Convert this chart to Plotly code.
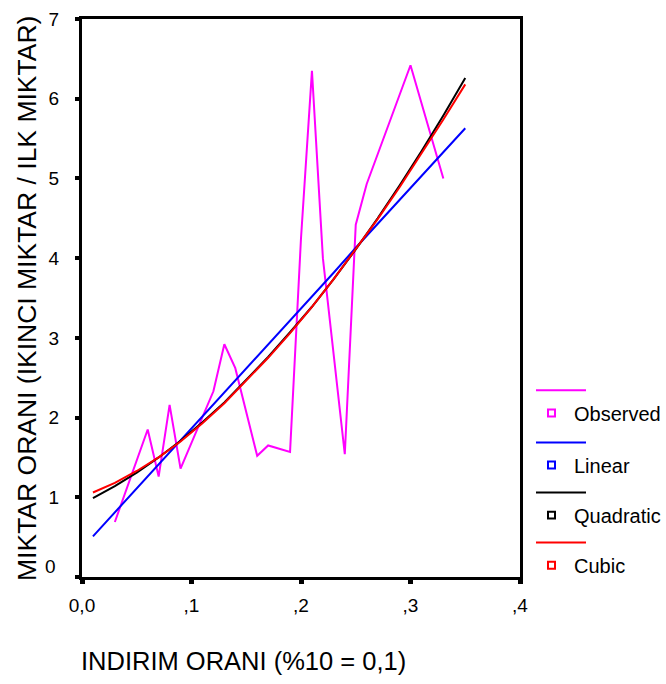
import plotly.graph_objects as go

# Observed data
obs_x = [0.03, 0.06, 0.07, 0.08, 0.09, 0.12, 0.13, 0.14, 0.16, 0.17, 0.19, 0.20, 0.21, 0.22, 0.24, 0.25, 0.26, 0.30, 0.33]
obs_y = [0.69, 1.85, 1.26, 2.16, 1.36, 2.33, 2.92, 2.62, 1.52, 1.65, 1.57, 4.25, 6.35, 4.00, 1.54, 4.42, 4.93, 6.42, 5.00]

# Fitted curves
fit_x = [0.01, 0.03, 0.05, 0.07, 0.09, 0.11, 0.13, 0.15, 0.17, 0.19, 0.21, 0.23, 0.25, 0.27, 0.29, 0.31, 0.33, 0.35]
linear_y = [0.51, 0.81, 1.11, 1.41, 1.72, 2.02, 2.32, 2.62, 2.92, 3.22, 3.52, 3.82, 4.13, 4.43, 4.73, 5.03, 5.33, 5.63]
quadratic_y = [0.99, 1.14, 1.31, 1.50, 1.71, 1.94, 2.19, 2.47, 2.76, 3.07, 3.39, 3.74, 4.11, 4.50, 4.91, 5.34, 5.79, 6.26]
cubic_y = [1.06, 1.18, 1.33, 1.50, 1.70, 1.93, 2.18, 2.46, 2.75, 3.06, 3.39, 3.74, 4.11, 4.49, 4.89, 5.31, 5.74, 6.18]

x_tickvals = [0.0, 0.1, 0.2, 0.3, 0.4]
x_ticktext = ["0,0", ",1", ",2", ",3", ",4"]
y_tickvals = [0, 1, 2, 3, 4, 5, 6, 7]
y_ticktext = ["", "1", "2", "3", "4", "5", "6", "7"]

series_names = ["Observed", "Linear", "Quadratic", "Cubic"]
series_colors = ["#FF00FF", "#0000FF", "#000000", "#FF0000"]

FONT = "Arial, Liberation Sans, sans-serif"

fig = go.Figure()
fig.add_trace(go.Scatter(x=obs_x, y=obs_y, mode="lines", line=dict(color=series_colors[0], width=2), name="Observed"))
fig.add_trace(go.Scatter(x=fit_x, y=linear_y, mode="lines", line=dict(color=series_colors[1], width=2), name="Linear"))
fig.add_trace(go.Scatter(x=fit_x, y=quadratic_y, mode="lines", line=dict(color=series_colors[2], width=2), name="Quadratic"))
fig.add_trace(go.Scatter(x=fit_x, y=cubic_y, mode="lines", line=dict(color=series_colors[3], width=2), name="Cubic"))

W, H = 666, 684
L, R, T, B = 82, 146, 9, 107
pw, ph = W - L - R, H - T - B

def px(xp):
    return (xp - L) / pw

def py(yp):
    return (H - B - yp) / ph

shapes = []
annotations = []
line_y = [387, 440, 491, 542]
for i, (name, col) in enumerate(zip(series_names, series_colors)):
    ly = line_y[i]
    shapes.append(dict(type="line", xref="paper", yref="paper", x0=px(536), x1=px(586), y0=py(ly), y1=py(ly),
                       line=dict(color=col, width=2)))
    sy = ly + 23
    shapes.append(dict(type="rect", xref="paper", yref="paper", x0=px(548), x1=px(555), y0=py(sy - 3.5), y1=py(sy + 3.5),
                       line=dict(color=col, width=2), fillcolor="white"))
    annotations.append(dict(text=name, xref="paper", yref="paper", x=px(572), y=py(sy + 1), xanchor="left", yanchor="middle",
                            showarrow=False, font=dict(family=FONT, size=20, color="black")))

# the "0" label of the y axis sits slightly raised, as in the reference
annotations.append(dict(text="0", xref="paper", yref="paper", x=px(58), y=py(566), xanchor="right", yanchor="middle",
                        showarrow=False, font=dict(family=FONT, size=19, color="black")))

annotations.append(dict(text="INDIRIM ORANI (%10 = 0,1)", xref="paper", yref="paper", x=px(79), y=py(663),
                        xanchor="left", yanchor="middle", showarrow=False, font=dict(family=FONT, size=25.5, color="black")))
annotations.append(dict(text="MIKTAR ORANI (IKINCI MIKTAR / ILK MIKTAR)", xref="paper", yref="paper", x=px(27), y=py(294),
                        xanchor="center", yanchor="middle", textangle=-90, showarrow=False,
                        font=dict(family=FONT, size=26.5, color="black")))

fig.update_layout(
    width=W, height=H,
    margin=dict(l=L, r=R, t=T, b=B),
    paper_bgcolor="white", plot_bgcolor="white",
    showlegend=False,
    font=dict(family=FONT, size=19, color="black"),
    shapes=shapes, annotations=annotations,
)
fig.update_xaxes(range=[0, 0.4], tickvals=x_tickvals, ticktext=x_ticktext, showgrid=False, zeroline=False,
                 showline=True, linecolor="black", linewidth=3, mirror=True,
                 ticks="outside", ticklen=4, tickwidth=5, tickcolor="black", ticklabelstandoff=5,
                 tickfont=dict(family=FONT, size=19, color="black"))
fig.update_yaxes(range=[0, 7], tickvals=y_tickvals, ticktext=y_ticktext, showgrid=False, zeroline=False,
                 showline=True, linecolor="black", linewidth=3, mirror=True,
                 ticks="outside", ticklen=4, tickwidth=4, tickcolor="black", ticklabelstandoff=12,
                 tickfont=dict(family=FONT, size=19, color="black"))

fig.write_html("out.html")
